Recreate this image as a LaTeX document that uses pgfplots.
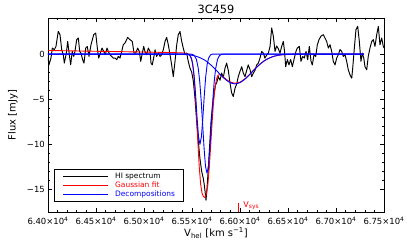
\documentclass[border=0pt]{standalone}
\usepackage{fontspec}
\setmainfont{DejaVu Sans}
\usepackage{pgfplots}
\pgfplotsset{compat=1.18}
\begin{document}
\begin{tikzpicture}
\begin{axis}[
  scale only axis, width=336bp, height=194bp,
  at={(0,0)}, anchor=south west,
  xmin=64000, xmax=67500, ymin=-17.5, ymax=4,
  scaled x ticks=false,
  xtick={64000,64500,65000,65500,66000,66500,67000,67500},
  xticklabels={6.40×10\textsuperscript{4},6.45×10\textsuperscript{4},6.50×10\textsuperscript{4},6.55×10\textsuperscript{4},6.60×10\textsuperscript{4},6.65×10\textsuperscript{4},6.70×10\textsuperscript{4},6.75×10\textsuperscript{4}},
  ytick={-15,-10,-5,0}, yticklabels={−15,−10,−5,0},
  minor x tick num=4, minor y tick num=4,
  tick align=inside, tick pos=both,
  major tick length=4.3bp, minor tick length=2.3bp,
  every tick/.style={black, line width=0.6bp},
  axis line style={black, line width=0.8bp},
  tick label style={font=\fontsize{8.5}{10}\selectfont},
  xticklabel style={anchor=north, inner sep=0pt, yshift=-5.4bp},
  yticklabel style={anchor=east, inner sep=0pt, xshift=-3bp},
  title={3C459},
  every axis title shift=0pt,
  title style={font=\fontsize{11.4}{13}\selectfont, at={(axis description cs:0.5,1)}, anchor=base, yshift=4.7bp, inner sep=0pt},
  xlabel={V\textsubscript{hel} [km s\textsuperscript{−1}]},
  ylabel={Flux [mJy]},
  every axis x label/.style={at={(axis description cs:0.5,-0.1258)}, anchor=base, font=\fontsize{10}{12}\selectfont, inner sep=0pt},
  every axis y label/.style={at={(axis description cs:-0.1042,0.5)}, rotate=90, anchor=center, font=\fontsize{10}{12}\selectfont, inner sep=0pt},
  legend style={at={(rel axis cs:0.01875,0.0515)}, anchor=south west, draw=black, line width=0.8bp, fill=white,
    font=\fontsize{7.5}{8.5}\selectfont, inner xsep=8bp, inner ysep=2.8bp, row sep=1bp, column sep=6bp,
    nodes={inner sep=0.5bp}},
  legend cell align=left,
  legend image code/.code={\draw[#1] (0bp,0bp) -- (45bp,0bp);},
]
\addplot[black, line width=0.95bp, line join=round] coordinates {
(64000,-0.3) (64010,-1.2) (64031,-0.44) (64045,0.67) (64066,0.48) (64083,0.85) (64107,2.52) (64125,2.15)
(64143,0.48) (64159,-0.07) (64170,-1.0) (64191,0.11) (64205,1.4) (64222,-0.07) (64236,-1.19) (64253,0.3)
(64268,-0.26) (64281,0.3) (64299,1.6) (64316,1.78) (64330,0.3) (64344,0.11) (64361,-0.63) (64375,-1.0)
(64393,0.67) (64409,0.85) (64427,-0.26) (64448,1.04) (64476,2.15) (64497,2.33) (64514,0.67) (64528,-0.44)
(64545,0.11) (64563,0.67) (64580,0.3) (64597,-0.07) (64615,0.67) (64628,0.3) (64646,-0.07) (64664,-0.26)
(64680,-0.44) (64698,-0.44) (64716,-0.63) (64732,-0.26) (64750,-0.44) (64768,0.3) (64784,1.04) (64802,1.22)
(64830,1.85) (64854,1.6) (64878,1.4) (64896,0.11) (64914,0.11) (64934,0.67) (64951,0.3) (64966,-0.81)
(64982,0.11) (64997,0.85) (65010,0.3) (65028,-0.07) (65045,0.67) (65063,0.3) (65073,-1.0) (65086,-1.2)
(65107,-0.07) (65115,0.48) (65132,-0.26) (65149,0.11) (65167,-0.26) (65184,-0.07) (65201,0.48) (65219,1.4)
(65236,1.85) (65253,1.04) (65271,-0.07) (65288,-1.19) (65305,-2.5) (65323,-0.81) (65341,1.04) (65357,2.15)
(65375,2.5) (65393,1.4) (65409,0.67) (65427,-0.07) (65445,0.11) (65461,-0.81) (65479,-1.56) (65497,-2.0)
(65514,-3.0) (65531,-4.9) (65549,-7.5) (65566,-9.7) (65583,-11.6) (65601,-13.0) (65618,-13.8) (65628,-14.5)
(65639,-15.5) (65646,-16.2) (65656,-14.9) (65670,-12.7) (65684,-10.1) (65698,-7.5) (65711,-6.0) (65729,-4.5)
(65745,-3.4) (65757,-3.2) (65774,-2.5) (65792,-2.9) (65809,-2.1) (65826,-2.6) (65844,-1.56) (65861,-1.0)
(65878,-1.8) (65896,-3.2) (65913,-4.3) (65930,-4.7) (65948,-3.8) (65966,-3.3) (65982,-2.5) (66000,-1.9)
(66018,-1.4) (66034,-2.1) (66052,-2.5) (66070,-1.8) (66086,-1.2) (66104,-1.7) (66122,-2.5) (66139,-2.1)
(66156,-1.8) (66174,-1.2) (66191,-1.0) (66208,-0.45) (66226,0.3) (66243,0.1) (66260,-0.45) (66278,-0.1)
(66295,0.1) (66313,0.85) (66330,2.9) (66347,2.0) (66365,0.3) (66382,0.9) (66399,0.6) (66417,0.1)
(66434,0.85) (66451,1.4) (66464,0.3) (66476,-1.4) (66493,-0.6) (66510,-1.2) (66528,-0.6) (66545,-1.4)
(66566,-0.44) (66583,0.3) (66597,0.67) (66618,0.85) (66635,-0.8) (66653,-0.26) (66670,-0.44) (66688,0.3)
(66705,-0.63) (66722,0.85) (66740,-0.8) (66753,-1.2) (66771,-0.07) (66789,-0.26) (66805,1.0) (66823,1.6)
(66844,2.0) (66868,2.15) (66885,1.78) (66903,1.4) (66920,0.67) (66938,1.04) (66955,0.3) (66972,-0.8)
(66990,-1.2) (67007,-0.44) (67024,-0.07) (67042,0.5) (67059,0.3) (67076,-0.26) (67094,-0.07) (67111,-0.8)
(67128,-1.74) (67146,-2.3) (67164,-2.67) (67174,-1.56) (67191,0.67) (67208,2.7) (67226,3.07) (67243,1.4)
(67260,-0.8) (67274,0.11) (67289,-0.44) (67302,-1.4) (67320,-1.74) (67336,-0.26) (67354,0.67) (67372,1.4)
(67389,1.6) (67406,0.85) (67424,2.15) (67441,3.07) (67458,1.04) (67476,1.78) (67493,0.85) (67500,0.67)
};
\addlegendentry{HI spectrum}
\addplot[red, line width=0.9bp, line join=round] coordinates {
(64000,0.4) (64500,0.313) (65000,0.226) (65300,0.17) (65400,0.13) (65450,0.074) (65480,-0.13) (65500,-0.72)
(65515,-1.79) (65530,-3.67) (65545,-6.39) (65560,-9.54) (65575,-12.41) (65590,-14.41) (65605,-15.43)
(65620,-15.81) (65635,-15.88) (65650,-15.54) (65665,-14.49) (65680,-12.59) (65695,-10.08) (65710,-7.48)
(65725,-5.25) (65740,-3.68) (65755,-2.78) (65770,-2.36) (65790,-2.26) (65820,-2.47) (65860,-2.84)
(65900,-3.11) (65948,-3.24) (66000,-3.11) (66050,-2.75) (66100,-2.25) (66150,-1.69) (66200,-1.18)
(66250,-0.76) (66300,-0.46) (66350,-0.25) (66400,-0.13) (66450,-0.06) (66500,-0.03) (66600,0) (67290,0)
};
\addlegendentry{\textcolor{red}{Gaussian fit}}
\addplot[blue, line width=0.9bp, line join=round] coordinates {
(64000,0) (65453,0) (65473,-0.09) (65493,-0.44) (65508,-1.14) (65523,-2.49) (65538,-4.58) (65553,-7.07)
(65568,-9.17) (65583,-10) (65598,-9.17) (65613,-7.07) (65628,-4.58) (65643,-2.49) (65658,-1.14)
(65673,-0.44) (65693,-0.09) (65713,0) (67290,0)
};
\addlegendentry{\textcolor{blue}{Decompositions}}
\addplot[blue, line width=0.9bp, line join=round, forget plot] coordinates {
(64000,0) (65486,0) (65506,-0.04) (65526,-0.17) (65546,-0.58) (65566,-1.63) (65581,-3.09) (65596,-5.21)
(65611,-7.82) (65626,-10.46) (65641,-12.46) (65656,-13.2) (65671,-12.46) (65686,-10.46) (65701,-7.82)
(65716,-5.21) (65731,-3.09) (65746,-1.63) (65766,-0.58) (65786,-0.17) (65806,-0.04) (65826,0) (67290,0)
};
\addplot[blue, line width=0.9bp, line join=round, smooth, forget plot] coordinates {
(64000,0) (65248,0) (65348,-0.01) (65448,-0.06) (65498,-0.13) (65548,-0.26) (65598,-0.47) (65648,-0.78)
(65698,-1.22) (65748,-1.74) (65798,-2.30) (65848,-2.81) (65898,-3.17) (65948,-3.3) (65998,-3.17)
(66048,-2.81) (66098,-2.30) (66148,-1.74) (66198,-1.22) (66248,-0.78) (66298,-0.47) (66348,-0.26)
(66398,-0.13) (66448,-0.06) (66548,-0.01) (66648,0) (67290,0)
};
\addplot[red, line width=0.9bp, forget plot] coordinates {(65986,-17.5) (65986,-16.5)};
\node[red, anchor=base west, inner sep=0pt, font=\fontsize{8}{9}\selectfont] at (axis cs:66034,-17.04) {V\textsubscript{sys}};
\end{axis}
\pgfresetboundingbox
\path[use as bounding box] (-48bp,-38bp) rectangle (359bp,212bp);
\end{tikzpicture}
\end{document}
